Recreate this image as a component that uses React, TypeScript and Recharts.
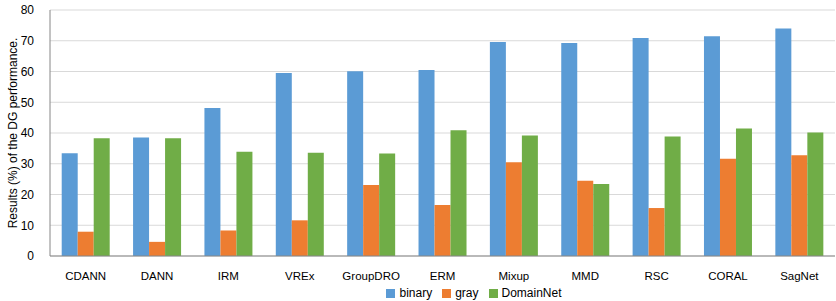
import { BarChart, Bar, XAxis, YAxis, CartesianGrid, Legend } from 'recharts';

const methods = ['CDANN', 'DANN', 'IRM', 'VREx', 'GroupDRO', 'ERM', 'Mixup', 'MMD', 'RSC', 'CORAL', 'SagNet'];
const binary = [33.4, 38.5, 48.1, 59.5, 60.1, 60.5, 69.6, 69.3, 70.9, 71.5, 74.0];
const gray = [7.9, 4.6, 8.3, 11.6, 23.1, 16.6, 30.5, 24.5, 15.6, 31.6, 32.8];
const domainNet = [38.3, 38.3, 33.9, 33.6, 33.3, 40.9, 39.2, 23.4, 38.9, 41.5, 40.2];
const yTicks = [0, 10, 20, 30, 40, 50, 60, 70, 80];
const seriesOrder = ['binary', 'gray', 'DomainNet'];

const data = methods.map((name, i) => ({
  name,
  binary: binary[i],
  gray: gray[i],
  DomainNet: domainNet[i],
}));

const font = 'Liberation Sans, Arial, sans-serif';

export default function App() {
  return (
    <div style={{ position: 'absolute', left: 0, top: 0, fontFamily: font }}>
      <BarChart
        width={836}
        height={301}
        data={data}
        margin={{ top: 10, right: 1, left: 0, bottom: 0 }}
        barGap={0}
        barCategoryGap="16.4%"
      >
        <CartesianGrid vertical={false} stroke="#d9d9d9" strokeWidth={1} />
        <XAxis
          dataKey="name"
          height={25}
          tickLine={false}
          axisLine={{ stroke: '#868686' }}
          tickMargin={10}
          tick={{ fill: '#000', fontSize: 11.5, fontFamily: font }}
          interval={0}
        />
        <YAxis
          width={50}
          domain={[0, 80]}
          ticks={yTicks}
          tickLine={false}
          axisLine={{ stroke: '#868686' }}
          tickMargin={10}
          tick={{ fill: '#000', fontSize: 12, fontFamily: font }}
          label={{
            value: 'Results (%) of the DG performance.',
            angle: -90,
            position: 'center',
            dx: -12,
            style: { fill: '#000', fontSize: 12, fontFamily: font, textAnchor: 'middle' },
          }}
        />
        <Legend
          verticalAlign="bottom"
          height={20}
          iconType="square"
          iconSize={9}
          itemSorter={(item: any) => seriesOrder.indexOf(item.value)}
          wrapperStyle={{ left: 359, width: 240, top: 286, fontSize: 12, fontFamily: font, whiteSpace: 'nowrap' }}
          formatter={(value: string) => <span style={{ color: '#000' }}>{value}</span>}
        />
        <Bar dataKey="binary" fill="#5b9bd5" isAnimationActive={false} />
        <Bar dataKey="gray" fill="#ed7d31" isAnimationActive={false} />
        <Bar dataKey="DomainNet" fill="#70ad47" isAnimationActive={false} />
      </BarChart>
    </div>
  );
}
